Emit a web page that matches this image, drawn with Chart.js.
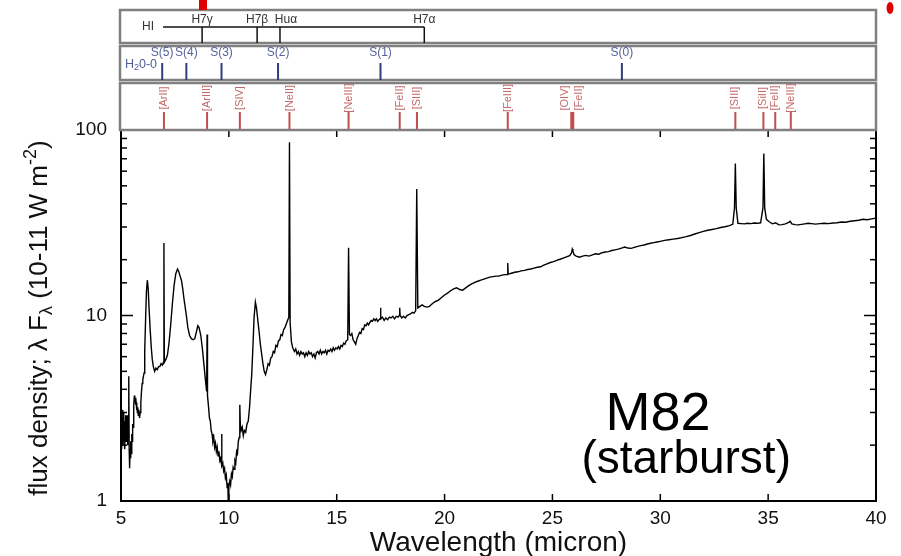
<!DOCTYPE html>
<html>
<head>
<meta charset="utf-8">
<script src="https://cdn.jsdelivr.net/npm/chart.js@4.4.0/dist/chart.umd.min.js"></script>
<style>
  body { margin: 0; background: #fff; }
  #wrap { width: 901px; height: 556px; }
</style>
</head>
<body>
<div id="wrap"><canvas id="spec" width="901" height="556"></canvas></div>
<script>
// M82 mid-IR spectrum (10 per row)
const wl = [
  5.000, 5.015, 5.030, 5.045, 5.060, 5.075, 5.090, 5.105, 5.120, 5.135,
  5.150, 5.165, 5.180, 5.195, 5.210, 5.225, 5.240, 5.255, 5.270, 5.285,
  5.300, 5.320, 5.340, 5.360, 5.380, 5.400, 5.420, 5.440, 5.460, 5.480,
  5.500, 5.520, 5.540, 5.560, 5.580, 5.600, 5.620, 5.640, 5.660, 5.680,
  5.700, 5.720, 5.740, 5.760, 5.780, 5.800, 5.830, 5.860, 5.890, 5.920,
  5.950, 5.980, 6.010, 6.040, 6.070, 6.100, 6.140, 6.180, 6.220, 6.260,
  6.300, 6.350, 6.400, 6.450, 6.500, 6.560, 6.620, 6.680, 6.740, 6.800,
  6.860, 6.920, 6.970, 6.990, 7.010, 7.080, 7.150, 7.220, 7.300, 7.380,
  7.460, 7.540, 7.620, 7.680, 7.740, 7.800, 7.860, 7.920, 7.980, 8.040,
  8.100, 8.180, 8.260, 8.340, 8.420, 8.500, 8.560, 8.620, 8.700, 8.780,
  8.860, 8.930, 8.970, 8.990, 9.010, 9.050, 9.100, 9.140, 9.180, 9.220,
  9.260, 9.300, 9.340, 9.380, 9.420, 9.460, 9.500, 9.540, 9.580, 9.620,
  9.650, 9.665, 9.680, 9.720, 9.760, 9.800, 9.840, 9.880, 9.920, 9.950,
  9.975, 10.000, 10.040, 10.080, 10.120, 10.160, 10.200, 10.240, 10.280, 10.320,
  10.360, 10.400, 10.440, 10.480, 10.500, 10.515, 10.530, 10.570, 10.620, 10.670,
  10.720, 10.780, 10.840, 10.900, 10.960, 11.000, 11.060, 11.120, 11.170, 11.230,
  11.280, 11.340, 11.400, 11.460, 11.520, 11.580, 11.640, 11.700, 11.760, 11.820,
  11.880, 11.940, 12.000, 12.060, 12.120, 12.180, 12.240, 12.300, 12.360, 12.420,
  12.480, 12.540, 12.600, 12.660, 12.720, 12.780, 12.810, 12.840, 12.900, 12.960,
  13.040, 13.100, 13.160, 13.220, 13.280, 13.340, 13.400, 13.460, 13.520, 13.580,
  13.640, 13.700, 13.760, 13.820, 13.880, 13.940, 14.000, 14.060, 14.120, 14.180,
  14.240, 14.300, 14.360, 14.420, 14.480, 14.540, 14.600, 14.660, 14.720, 14.780,
  14.840, 14.900, 14.960, 15.020, 15.080, 15.140, 15.200, 15.260, 15.320, 15.380,
  15.440, 15.510, 15.550, 15.590, 15.640, 15.700, 15.760, 15.820, 15.880, 15.940,
  16.000, 16.060, 16.120, 16.180, 16.240, 16.300, 16.360, 16.420, 16.480, 16.540,
  16.600, 16.660, 16.720, 16.780, 16.840, 16.900, 16.960, 17.010, 17.030, 17.050,
  17.120, 17.200, 17.280, 17.360, 17.440, 17.520, 17.600, 17.680, 17.760, 17.840,
  17.900, 17.920, 17.940, 18.020, 18.100, 18.180, 18.260, 18.340, 18.420, 18.500,
  18.580, 18.660, 18.710, 18.760, 18.860, 18.960, 19.060, 19.180, 19.300, 19.440,
  19.580, 19.720, 19.860, 20.000, 20.140, 20.280, 20.420, 20.560, 20.700, 20.840,
  20.980, 21.120, 21.260, 21.400, 21.540, 21.680, 21.820, 21.960, 22.100, 22.240,
  22.380, 22.520, 22.660, 22.800, 22.910, 22.930, 22.950, 23.100, 23.250, 23.400,
  23.550, 23.700, 23.850, 24.000, 24.150, 24.300, 24.450, 24.600, 24.750, 24.900,
  25.050, 25.200, 25.350, 25.500, 25.650, 25.800, 25.890, 25.920, 25.950, 26.000,
  26.100, 26.250, 26.400, 26.550, 26.700, 26.850, 27.000, 27.150, 27.300, 27.450,
  27.600, 27.750, 27.900, 28.050, 28.200, 28.350, 28.500, 28.650, 28.800, 28.950,
  29.100, 29.250, 29.400, 29.550, 29.700, 29.850, 30.000, 30.200, 30.400, 30.600,
  30.800, 31.000, 31.200, 31.400, 31.600, 31.800, 32.000, 32.200, 32.400, 32.600,
  32.800, 33.000, 33.200, 33.360, 33.440, 33.480, 33.520, 33.600, 33.750, 33.900,
  34.050, 34.200, 34.350, 34.500, 34.650, 34.760, 34.800, 34.840, 34.920, 35.050,
  35.200, 35.350, 35.500, 35.650, 35.800, 35.950, 36.020, 36.100, 36.250, 36.400,
  36.550, 36.700, 36.850, 37.000, 37.200, 37.400, 37.600, 37.800, 38.000, 38.200,
  38.400, 38.600, 38.800, 39.000, 39.200, 39.400, 39.600, 39.800, 40.000
];
const flux = [
  2.2, 2.7, 1.9, 2.8, 2.1, 3.1, 2.0, 2.6, 2.3, 3.0,
  2.1, 2.7, 1.9, 2.5, 2.2, 2.9, 2.1, 2.6, 2.4, 2.9,
  2.0, 2.6, 2.2, 4.7, 1.9, 1.5, 1.9, 1.7, 2.1, 1.8,
  2.3, 2.1, 2.6, 2.5, 3.0, 3.3, 3.7, 3.4, 3.6, 3.3,
  3.4, 3.1, 3.3, 3.0, 3.2, 2.9, 3.1, 2.8, 3.0, 3.4,
  3.9, 4.3, 4.5, 4.7, 4.9, 6.5, 9.5, 13.5, 15.5, 14.0,
  11.0, 8.5, 6.8, 5.8, 5.3, 5.0, 5.2, 5.1, 5.3, 5.3,
  5.5, 5.4, 5.6, 24.6, 5.6, 5.8, 6.1, 7.0, 8.8, 11.5,
  14.5, 16.8, 17.8, 17.2, 16.3, 15.5, 14.0, 12.3, 11.0, 9.8,
  8.6, 7.8, 7.5, 7.4, 7.5, 8.2, 8.8, 8.6, 7.8, 6.5,
  5.2, 4.3, 3.9, 7.9, 3.7, 3.3, 2.8, 2.7, 2.4, 2.3,
  2.1, 2.2, 1.95, 2.05, 1.85, 1.95, 1.75, 1.85, 1.65, 1.7,
  1.6, 2.3, 1.55, 1.6, 1.45, 1.5, 1.33, 1.38, 1.18, 1.25,
  0.97, 1.2, 1.28, 1.22, 1.4, 1.35, 1.52, 1.48, 1.65, 1.6,
  1.85, 1.8, 2.1, 2.2, 2.5, 3.3, 2.6, 2.4, 2.5, 2.25,
  2.4, 2.35, 2.6, 2.7, 3.2, 3.8, 4.8, 7.0, 9.8, 11.8,
  11.0, 9.5, 8.2, 7.0, 6.2, 5.5, 5.0, 4.8, 5.1, 5.5,
  5.4, 5.9, 6.0, 6.4, 6.3, 6.9, 6.8, 7.3, 7.4, 7.9,
  7.8, 8.4, 8.6, 9.0, 9.4, 9.8, 86, 9.2, 7.2, 6.7,
  6.4, 6.6, 6.2, 6.4, 6.1, 6.4, 6.2, 6.3, 6.0, 6.3,
  6.1, 6.4, 6.2, 6.3, 6.0, 6.2, 5.9, 6.3, 6.4, 6.2,
  6.5, 6.2, 6.4, 6.3, 6.5, 6.2, 6.5, 6.4, 6.6, 6.4,
  6.7, 6.5, 6.7, 6.6, 6.8, 6.6, 6.9, 6.8, 7.1, 7.0,
  7.3, 7.4, 23.2, 7.9, 7.8, 8.0, 7.4, 7.2, 7.0, 7.5,
  7.8, 8.1, 8.0, 8.5, 8.4, 8.9, 8.8, 9.1, 8.9, 9.2,
  9.4, 9.3, 9.6, 9.4, 9.6, 9.3, 9.5, 9.6, 11.0, 9.6,
  9.8, 9.4, 9.7, 9.5, 9.8, 9.7, 9.9, 9.6, 9.9, 9.8,
  10.0, 11.0, 10.0, 9.7, 9.9, 9.7, 10.0, 10.1, 10.2, 10.4,
  10.3, 10.6, 48, 11.0, 11.2, 11.4, 11.2, 11.1, 11.2, 11.6,
  11.9, 12.1, 12.5, 12.9, 13.2, 13.6, 13.9, 14.1, 13.8, 13.7,
  14.1, 14.5, 14.8, 15.1, 15.3, 15.5, 15.7, 15.9, 16.1, 16.2,
  16.3, 16.3, 16.5, 16.6, 16.6, 19.2, 16.7, 16.9, 17.1, 17.2,
  17.4, 17.5, 17.7, 17.8, 18.0, 18.2, 18.3, 18.7, 19.0, 19.3,
  19.5, 19.8, 20.1, 20.4, 20.7, 21.0, 21.8, 22.8, 22.3, 21.3,
  20.9, 20.6, 20.9, 21.1, 20.9, 21.2, 21.5, 21.4, 21.8, 22.0,
  22.1, 22.4, 22.6, 22.8, 23.1, 23.4, 23.1, 23.0, 23.3, 23.6,
  23.8, 24.0, 24.3, 24.5, 24.7, 24.9, 25.1, 25.4, 25.6, 25.8,
  26.0, 26.3, 26.6, 27.0, 27.5, 28.0, 28.4, 28.8, 29.1, 29.4,
  29.8, 30.1, 30.5, 31.0, 38, 66, 38, 31.4, 31.3, 31.2,
  31.4, 31.3, 31.5, 31.4, 31.6, 38, 74.8, 38, 33.0, 32.0,
  31.2, 31.6, 30.8, 30.9, 31.2, 31.8, 32.2, 31.2, 30.9, 30.8,
  31.0, 31.2, 31.4, 31.3, 31.1, 31.3, 31.4, 31.3, 31.5, 31.6,
  31.9, 31.8, 32.2, 32.4, 32.6, 33.0, 32.8, 33.2, 33.5
];

const xTicks = [5, 10, 15, 20, 25, 30, 35, 40];
const yLabels = [1, 10, 100];

// line identifications (micron)
const hiNames = ['H7\u03b3', 'H7\u03b2', 'Hu\u03b1', 'H7\u03b1'];
const hiWl = [8.76, 11.31, 12.37, 19.06];
const h2Names = ['S(5)', 'S(4)', 'S(3)', 'S(2)', 'S(1)', 'S(0)'];
const h2Wl = [6.91, 8.03, 9.66, 12.28, 17.03, 28.22];
const ionNames = ['[ArII]', '[ArIII]', '[SIV]', '[NeII]', '[NeIII]', '[FeII]', '[SIII]', '[FeIII]',
  ['[OIV]', '[FeII]'], '[SIII]', '[SiII]', '[FeII]', '[NeIII]'];
const ionWl = [6.99, 8.99, 10.51, 12.81, 15.55, 17.92, 18.72, 22.93, 25.92, 33.48, 34.78, 35.33, 36.05];

const FONT = '"Liberation Sans", Arial, sans-serif';

function line(ctx, x1, y1, x2, y2) {
  ctx.beginPath();
  ctx.moveTo(x1, y1);
  ctx.lineTo(x2, y2);
  ctx.stroke();
}

// draws text pieces in a row, centred on x: [text, size, shift]
function pieces(ctx, parts, x, y) {
  ctx.textAlign = 'left';
  let w = 0;
  parts.forEach(p => { ctx.font = p[1] + 'px ' + FONT; w += ctx.measureText(p[0]).width; });
  let cx = x - w / 2;
  parts.forEach(p => {
    ctx.font = p[1] + 'px ' + FONT;
    ctx.fillText(p[0], cx, y + p[2]);
    cx += ctx.measureText(p[0]).width;
  });
}

const decor = {
  id: 'decor',
  afterDraw(chart) {
    const ctx = chart.ctx;
    const xs = chart.scales.x, ys = chart.scales.y;
    const { left, right, top, bottom } = chart.chartArea;
    ctx.save();

    // main frame and inward ticks
    ctx.strokeStyle = '#000';
    ctx.lineWidth = 2;
    ctx.strokeRect(left, top, right - left, bottom - top);
    ctx.lineWidth = 1.5;
    xTicks.forEach(v => {
      const px = xs.getPixelForValue(v);
      line(ctx, px, bottom, px, bottom - 7);
      line(ctx, px, top, px, top + 7);
    });
    ys.ticks.forEach(t => {
      const py = ys.getPixelForValue(t.value);
      const len = yLabels.includes(t.value) ? 12 : 6;
      line(ctx, left, py, left + len, py);
      line(ctx, right, py, right - len, py);
    });

    // identification panels above the plot
    const panels = [[10, 43], [46, 80], [83, 130]];
    ctx.strokeStyle = '#808080';
    ctx.lineWidth = 2.5;
    panels.forEach(p => ctx.strokeRect(left - 1, p[0], right - left + 1, p[1] - p[0]));

    // HI
    ctx.strokeStyle = '#111';
    ctx.lineWidth = 1.5;
    line(ctx, xs.getPixelForValue(6.95), 27, xs.getPixelForValue(hiWl[hiWl.length - 1]), 27);
    ctx.fillStyle = '#333';
    ctx.textAlign = 'center';
    ctx.textBaseline = 'middle';
    ctx.font = '12px ' + FONT;
    ctx.fillText('HI', xs.getPixelForValue(6.25), 27);
    hiWl.forEach((w, i) => {
      const px = xs.getPixelForValue(w);
      line(ctx, px, 27, px, 43);
      ctx.fillText(hiNames[i], px + (hiNames[i] === 'Hu\u03b1' ? 6 : 0), 20);
    });

    // H2 0-0
    ctx.strokeStyle = '#2f3d7a';
    ctx.lineWidth = 2;
    ctx.fillStyle = '#56639a';
    ctx.font = '12px ' + FONT;
    h2Wl.forEach((w, i) => {
      const px = xs.getPixelForValue(w);
      line(ctx, px, 63, px, 80);
      ctx.fillText(h2Names[i], px, 53);
    });
    ctx.fillStyle = '#4f5f99';
    pieces(ctx, [['H', 12.5, 0], ['2', 9, 3], ['0-0', 12.5, 0]], left + 20, 65);

    // ionic lines
    ctx.strokeStyle = '#c0504d';
    ctx.textAlign = 'center';
    ionWl.forEach((w, i) => {
      const px = xs.getPixelForValue(w);
      const names = Array.isArray(ionNames[i]) ? ionNames[i] : [ionNames[i]];
      ctx.lineWidth = names.length > 1 ? 4 : 2;
      line(ctx, px, 112, px, 129);
      ctx.fillStyle = '#c46a6a';
      ctx.font = '11px ' + FONT;
      names.forEach((n, k) => {
        const off = names.length > 1 ? (k === 0 ? -7 : 7) : 0;
        ctx.save();
        ctx.translate(px + off, 98);
        ctx.rotate(-Math.PI / 2);
        ctx.fillText(n, 0, 0);
        ctx.restore();
      });
    });

    // red marks at the top edge
    ctx.fillStyle = '#e00000';
    const rx = xs.getPixelForValue(8.8);
    ctx.fillRect(rx - 4, 0, 8, 10);
    const dx = xs.getPixelForValue(40.65);
    ctx.beginPath();
    ctx.ellipse(dx, 8, 3.5, 6, 0, 0, Math.PI * 2);
    ctx.fill();

    // axis titles
    ctx.fillStyle = '#111';
    ctx.font = '28px ' + FONT;
    ctx.textAlign = 'center';
    ctx.fillText('Wavelength (micron)', (left + right) / 2, 543);
    ctx.save();
    ctx.translate(40, 318);
    ctx.rotate(-Math.PI / 2);
    pieces(ctx, [['flux density; \u03bb F', 26, 0], ['\u03bb', 18, 7], [' (10-11 W m', 26, 0], ['-2', 18, -9], [')', 26, 0]], 0, 0);
    ctx.restore();

    // object label
    ctx.textAlign = 'center';
    ctx.textBaseline = 'alphabetic';
    ctx.fillStyle = '#000';
    ctx.font = '54px ' + FONT;
    ctx.fillText('M82', xs.getPixelForValue(29.9), ys.getPixelForValue(2.41));
    ctx.font = '46px ' + FONT;
    ctx.fillText('(starburst)', xs.getPixelForValue(31.2), ys.getPixelForValue(1.42));

    ctx.restore();
  }
};

new Chart(document.getElementById('spec'), {
  type: 'line',
  data: {
    datasets: [
      {
        data: wl.map((w, i) => ({ x: w, y: flux[i] })),
        borderColor: '#000',
        borderWidth: 1.4,
        pointRadius: 0,
        tension: 0,
        fill: false,
      },
    ],
  },
  options: {
    responsive: false,
    animation: false,
    layout: { padding: { top: 130, right: 25, left: 0, bottom: 0 } },
    plugins: { legend: { display: false }, tooltip: { enabled: false } },
    scales: {
      x: {
        type: 'linear',
        min: 5,
        max: 40,
        ticks: { stepSize: 5, padding: 6, maxRotation: 0, color: '#111', font: { size: 19, family: FONT } },
        grid: { display: false, drawTicks: false },
        border: { display: false },
        afterFit: (s) => { s.height = 55; },
      },
      y: {
        type: 'logarithmic',
        min: 1,
        max: 100,
        ticks: {
          autoSkip: false,
          padding: 14,
          color: '#111',
          font: { size: 19, family: FONT },
          callback: (v) => yLabels.includes(v) ? String(v) : '',
        },
        grid: { display: false, drawTicks: false },
        border: { display: false },
        afterFit: (s) => { s.width = 121; },
      },
    },
  },
  plugins: [decor],
});
</script>
</body>
</html>
